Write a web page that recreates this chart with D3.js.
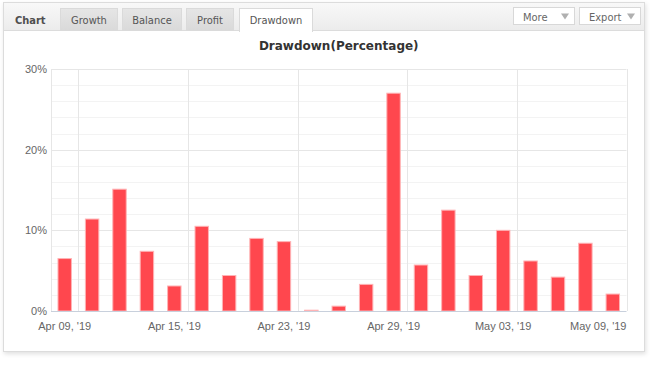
<!DOCTYPE html>
<html>
<head>
<meta charset="utf-8">
<script src="https://cdn.jsdelivr.net/npm/d3@7"></script>
<style>
  body { margin: 0; background: #fff; }
  svg { display: block; }
</style>
</head>
<body>
<svg id="chart" width="653" height="372"></svg>
<script>
// trading days shown on the category axis
var dates = ["Apr 09, '19","Apr 10, '19","Apr 11, '19","Apr 12, '19","Apr 15, '19",
             "Apr 16, '19","Apr 17, '19","Apr 18, '19","Apr 23, '19","Apr 24, '19",
             "Apr 25, '19","Apr 26, '19","Apr 29, '19","Apr 30, '19","May 01, '19",
             "May 02, '19","May 03, '19","May 06, '19","May 07, '19","May 08, '19","May 09, '19"];
// drawdown in percent
var drawdown = [6.5, 11.4, 15.1, 7.4, 3.1, 10.5, 4.4, 9.0, 8.6, 0.1, 0.6,
                3.3, 27.0, 5.7, 12.5, 4.4, 10.0, 6.2, 4.2, 8.4, 2.1];
var yTicks = [0, 10, 20, 30];
var tabs = ["Growth", "Balance", "Profit", "Drawdown"];
var buttons = ["More", "Export"];

var svg = d3.select("#chart");
var uiFont = "'DejaVu Sans Condensed', 'DejaVu Sans', sans-serif";

var defs = svg.append("defs");
var g1 = defs.append("linearGradient").attr("id", "headGrad").attr("x1", 0).attr("y1", 0).attr("x2", 0).attr("y2", 1);
g1.append("stop").attr("offset", "0%").attr("stop-color", "#f8f8f8");
g1.append("stop").attr("offset", "100%").attr("stop-color", "#ececec");
var g2 = defs.append("linearGradient").attr("id", "tabGrad").attr("x1", 0).attr("y1", 0).attr("x2", 0).attr("y2", 1);
g2.append("stop").attr("offset", "0%").attr("stop-color", "#e6e6e6");
g2.append("stop").attr("offset", "100%").attr("stop-color", "#d9d9d9");
var sh = defs.append("filter").attr("id", "shadow").attr("x", "-5%").attr("y", "-5%").attr("width", "110%").attr("height", "115%");
sh.append("feDropShadow").attr("dx", 1).attr("dy", 2).attr("stdDeviation", 2).attr("flood-color", "#000").attr("flood-opacity", 0.12);

// panel
svg.append("rect")
    .attr("x", 3.5).attr("y", 2.5).attr("width", 641).attr("height", 349)
    .attr("fill", "#fff").attr("stroke", "#dcdcdc")
    .attr("filter", "url(#shadow)");

// header bar
svg.append("rect")
    .attr("x", 4).attr("y", 3).attr("width", 640).attr("height", 27)
    .attr("fill", "url(#headGrad)");
svg.append("line")
    .attr("x1", 4).attr("x2", 644).attr("y1", 30.5).attr("y2", 30.5)
    .attr("stroke", "#dcdcdc");

svg.append("text")
    .attr("x", 15).attr("y", 24)
    .attr("font-family", uiFont).attr("font-size", 11).attr("font-weight", "bold")
    .attr("fill", "#4f4f4f")
    .text("Chart");

var tabX = [60, 122, 186, 239];
var tabW = [57, 59, 47, 73];
var tabG = svg.selectAll(".tab")
    .data(tabs).enter()
    .append("g").attr("class", "tab");
tabG.append("rect")
    .attr("x", function(d, i) { return tabX[i] + 0.5; })
    .attr("y", 8.5)
    .attr("width", function(d, i) { return tabW[i]; })
    .attr("height", function(d, i) { return i == 3 ? 23 : 22; })
    .attr("fill", function(d, i) { return i == 3 ? "#fff" : "url(#tabGrad)"; })
    .attr("stroke", "#dadada");
// open the active tab into the body
svg.append("rect")
    .attr("x", tabX[3] + 1).attr("y", 29).attr("width", tabW[3] - 1).attr("height", 3)
    .attr("fill", "#fff");
tabG.append("text")
    .attr("x", function(d, i) { return tabX[i] + tabW[i] / 2 + 0.5; })
    .attr("y", 24)
    .attr("text-anchor", "middle")
    .attr("font-family", uiFont).attr("font-size", 11)
    .attr("fill", "#555")
    .text(function(d) { return d; });

var btnX = [513, 579];
var btnW = [61, 61];
var btnG = svg.selectAll(".btn")
    .data(buttons).enter()
    .append("g").attr("class", "btn");
btnG.append("rect")
    .attr("x", function(d, i) { return btnX[i] + 0.5; })
    .attr("y", 7.5)
    .attr("width", function(d, i) { return btnW[i]; })
    .attr("height", 17)
    .attr("fill", "#fff").attr("stroke", "#d8d8d8");
btnG.append("text")
    .attr("x", function(d, i) { return btnX[i] + 10; })
    .attr("y", 20.5)
    .attr("font-family", uiFont).attr("font-size", 11)
    .attr("fill", "#666")
    .text(function(d) { return d; });
btnG.append("path")
    .attr("d", function(d, i) {
        var cx = btnX[i] + btnW[i] - 9;
        return "M" + (cx - 4) + ",13.5L" + (cx + 4) + ",13.5L" + cx + ",19.5Z";
    })
    .attr("fill", "#b0b0b0");

// plot
var plotLeft = 51, plotRight = 626.5, plotTop = 69, plotBottom = 311;
var x = d3.scaleBand().domain(dates).range([plotLeft, plotRight]).paddingInner(0.51).paddingOuter(0.255);
var y = d3.scaleLinear().domain([0, 30]).range([plotBottom, plotTop]);
var step = x.step(), half = step * x.paddingInner() / 2;

// minor horizontal grid
svg.append("g").selectAll("line")
    .data(d3.range(0, 31, 2).filter(function(v) { return v % 10 != 0; }))
    .enter().append("line")
    .attr("x1", plotLeft).attr("x2", plotRight)
    .attr("y1", function(d) { return Math.round(y(d)) + 0.5; })
    .attr("y2", function(d) { return Math.round(y(d)) + 0.5; })
    .attr("stroke", "#f3f3f3");

// major horizontal grid
svg.append("g").selectAll("line")
    .data(yTicks.slice(1))
    .enter().append("line")
    .attr("x1", plotLeft).attr("x2", plotRight)
    .attr("y1", function(d) { return Math.round(y(d)) + 0.5; })
    .attr("y2", function(d) { return Math.round(y(d)) + 0.5; })
    .attr("stroke", "#e6e6e6");

// vertical grid at the end of each labelled category
var tickDates = dates.filter(function(d, i) { return i % 4 == 0; });
svg.append("g").selectAll("line")
    .data(tickDates)
    .enter().append("line")
    .attr("x1", function(d) { return Math.round(x(d) - half + step) + 0.5; })
    .attr("x2", function(d) { return Math.round(x(d) - half + step) + 0.5; })
    .attr("y1", plotTop).attr("y2", plotBottom)
    .attr("stroke", "#e6e6e6");
svg.append("line")
    .attr("x1", plotLeft + 0.5).attr("x2", plotLeft + 0.5).attr("y1", plotTop).attr("y2", plotBottom)
    .attr("stroke", "#e6e6e6");

// bars
svg.append("g").selectAll("rect")
    .data(drawdown)
    .enter().append("rect")
    .attr("x", function(d, i) { return x(dates[i]); })
    .attr("y", function(d) { return y(d); })
    .attr("width", x.bandwidth())
    .attr("height", function(d) { return plotBottom - y(d); })
    .attr("fill", "#ff474e")
    .attr("stroke", "#ffb3b5")
    .attr("stroke-width", 1);

// x axis line
svg.append("line")
    .attr("x1", plotLeft).attr("x2", plotRight).attr("y1", plotBottom + 0.5).attr("y2", plotBottom + 0.5)
    .attr("stroke", "#c8d0dc");

var xAxis = svg.append("g")
    .attr("transform", "translate(0," + plotBottom + ")")
    .call(d3.axisBottom(x).tickValues(tickDates).tickSize(0).tickPadding(11));
var yAxis = svg.append("g")
    .attr("transform", "translate(" + plotLeft + ",0)")
    .call(d3.axisLeft(y).tickValues(yTicks).tickSize(0).tickPadding(4)
        .tickFormat(function(d) { return d + "%"; }));
[xAxis, yAxis].forEach(function(a) {
    a.select(".domain").remove();
    a.selectAll("text")
        .attr("font-family", "'Liberation Sans', Arial, sans-serif")
        .attr("font-size", 11)
        .attr("fill", "#666");
});
// last label is pulled back inside the plot
xAxis.selectAll(".tick").filter(function(d) { return d == dates[dates.length - 1]; })
    .select("text")
    .attr("text-anchor", "end")
    .attr("x", plotRight - (x(dates[dates.length - 1]) + x.bandwidth() / 2));

// title
svg.append("text")
    .attr("x", (plotLeft + plotRight) / 2).attr("y", 50)
    .attr("text-anchor", "middle")
    .attr("font-family", "'DejaVu Sans', Verdana, sans-serif")
    .attr("font-size", 12).attr("font-weight", "bold")
    .attr("fill", "#333")
    .text("Drawdown(Percentage)");
</script>
</body>
</html>
